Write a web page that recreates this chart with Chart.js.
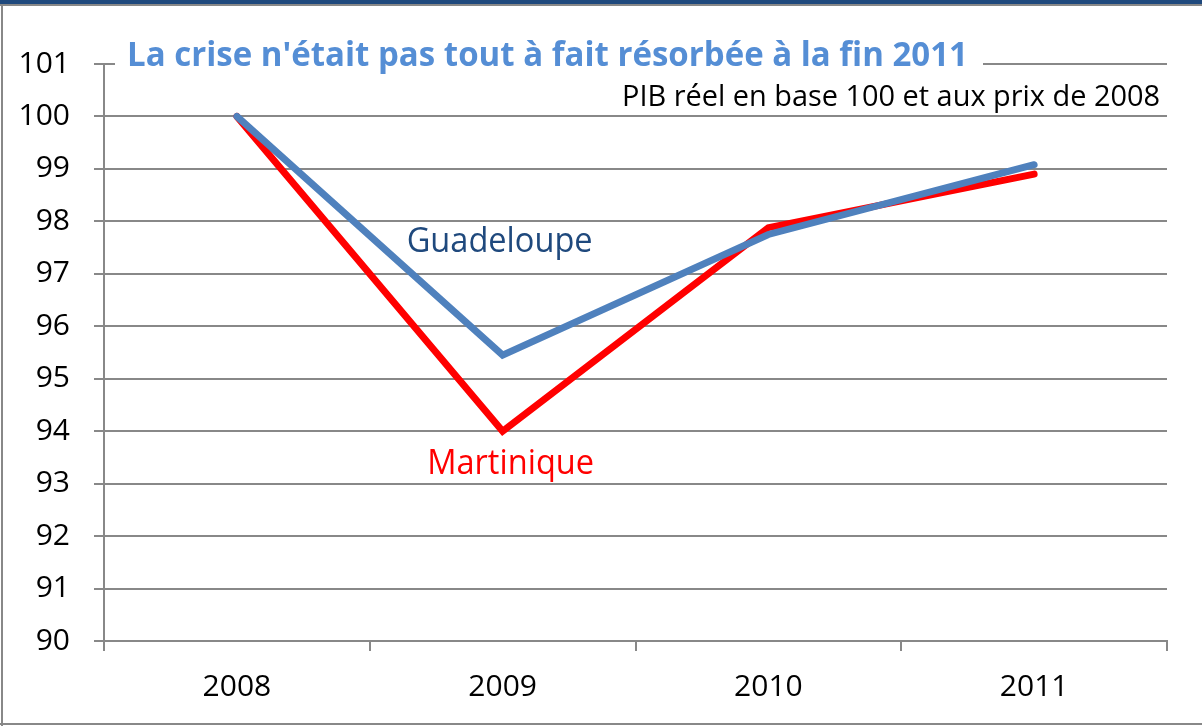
<!DOCTYPE html>
<html lang="fr">
<head>
<meta charset="utf-8">
<title>PIB réel Guadeloupe / Martinique</title>
<script src="https://cdn.jsdelivr.net/npm/chart.js@4"></script>
<style>
    html, body { margin: 0; padding: 0; background: #fff; }
    canvas { display: block; }
</style>
</head>
<body>
<canvas id="pibChart" width="1202" height="726"></canvas>
<script>
// ======= Données =======
const annees = ['2008', '2009', '2010', '2011'];           // Catégories
const guadeloupe = [100, 95.45, 97.75, 99.08];             // PIB réel, base 100 en 2008
const martinique = [100, 94.0, 97.88, 98.9];
const yMin = 90, yMax = 101, yPas = 1;                     // Graduations de l'axe des valeurs

const titre = "La crise n'était pas tout à fait résorbée à la fin 2011";
const sousTitre = 'PIB réel en base 100 et aux prix de 2008';

const police = '"Open Sans", "Noto Sans", sans-serif';
const gris = '#888888';

// ======= Cadre (bandeau bleu + bordure grise) =======
const cadre = {
    id: 'cadre',
    beforeDraw(chart) {
        const ctx = chart.ctx;
        const w = chart.width, h = chart.height;
        ctx.save();
        ctx.fillStyle = '#fff';
        ctx.fillRect(0, 0, w, h);
        ctx.fillStyle = '#1F497D';
        ctx.fillRect(0, 0, w, 4);
        ctx.fillStyle = gris;
        ctx.fillRect(0, 4, w, 2);
        ctx.fillRect(1, 4, 2, h - 4);
        ctx.fillRect(0, h - 3, w, 2);
        ctx.restore();
    }
};

// ======= Titre, sous-titre et étiquettes des séries =======
const textes = {
    id: 'textes',
    afterDraw(chart) {
        const ctx = chart.ctx;
        const x = chart.scales.x, y = chart.scales.y;
        ctx.save();

        // Titre sur fond blanc (masque la ligne de 101)
        ctx.fillStyle = '#fff';
        ctx.fillRect(115, y.getPixelForValue(yMax) - 22, 868, 36);
        ctx.fillStyle = '#558ED5';
        ctx.font = 'bold 34px ' + police;
        ctx.textAlign = 'left';
        ctx.textBaseline = 'alphabetic';
        ctx.fillText(titre, 127, 66, 841);

        // Sous-titre
        ctx.fillStyle = '#000';
        ctx.font = '29px ' + police;
        ctx.textAlign = 'right';
        ctx.fillText(sousTitre, 1160, 106, 538);

        // Étiquettes des séries
        ctx.textAlign = 'center';
        ctx.font = '34px ' + police;
        ctx.fillStyle = '#1F497D';
        ctx.fillText('Guadeloupe', x.getPixelForValue(1) - 3, y.getPixelForValue(97.42), 186);
        ctx.fillStyle = '#FF0000';
        ctx.fillText('Martinique', x.getPixelForValue(1) + 8, y.getPixelForValue(93.19), 167);

        ctx.restore();
    }
};

new Chart(document.getElementById('pibChart').getContext('2d'), {
    type: 'line',
    data: {
        labels: annees,
        datasets: [{
            label: 'Guadeloupe',
            data: guadeloupe,
            borderColor: '#4F81BD',
            borderWidth: 7,
            borderCapStyle: 'round',
            pointRadius: 0,
            tension: 0
        }, {
            label: 'Martinique',
            data: martinique,
            borderColor: '#FF0000',
            borderWidth: 7,
            borderCapStyle: 'round',
            pointRadius: 0,
            tension: 0
        }]
    },
    options: {
        responsive: false,
        animation: false,
        devicePixelRatio: 1,
        layout: {
            padding: { top: 64, right: 35, left: 0, bottom: 0 }
        },
        plugins: {
            legend: { display: false },
            title: { display: false },
            tooltip: { enabled: false }
        },
        scales: {
            x: {
                offset: true,
                grid: {
                    offset: true,
                    drawOnChartArea: false,
                    drawTicks: true,
                    tickLength: 10,
                    color: gris,
                    lineWidth: 2
                },
                border: { display: true, color: gris, width: 2 },
                ticks: {
                    color: '#000',
                    font: { family: police, size: 30 },
                    padding: 18
                },
                afterFit(scale) { scale.height = 85; }
            },
            y: {
                min: yMin,
                max: yMax,
                grid: {
                    color: gris,
                    lineWidth: 2,
                    tickLength: 10
                },
                border: { display: true, color: gris, width: 2 },
                ticks: {
                    stepSize: yPas,
                    color: '#000',
                    font: { family: police, size: 30 },
                    padding: 24
                },
                afterFit(scale) { scale.width = 104; }
            }
        }
    },
    plugins: [cadre, textes]
});
</script>
</body>
</html>
